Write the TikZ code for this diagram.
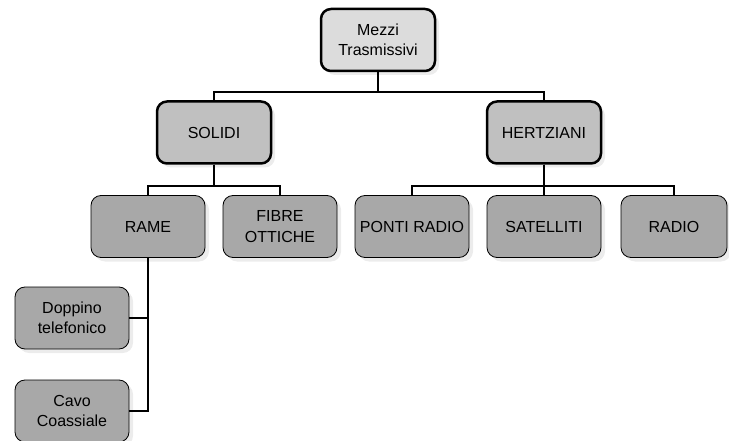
\documentclass[tikz,border=0pt]{standalone}
\usepackage{fontspec}
\setmainfont{Liberation Sans}
\usepackage{xcolor}
\usepackage{tikz}
\usetikzlibrary{shadows}

\definecolor{boxtop}{HTML}{DCDCDC}
\definecolor{boxmid}{HTML}{C0C0C0}
\definecolor{boxlow}{HTML}{A8A8A8}

\begin{document}
\begin{tikzpicture}[x=1pt,y=-1pt,
    box/.style={rectangle, rounded corners=10pt, draw=black, align=center,
        minimum width=114pt, minimum height=62pt, inner sep=1pt,
        font=\fontsize{16}{20.5}\selectfont,
        drop shadow={shadow xshift=4pt, shadow yshift=-4pt, fill=gray!30}},
    headbox/.style={box, fill=boxtop, line width=2.5pt},
    mainbox/.style={box, fill=boxmid, line width=2.5pt},
    leafbox/.style={box, fill=boxlow, line width=0.8pt},
    link/.style={line width=2pt}]
        \useasboundingbox (0,0) rectangle (729,441);

        \node[headbox] (mezzi) at (378,40) {Mezzi\\Trasmissivi};

        \node[mainbox] (solidi) at (214,132.5) {SOLIDI};
        \node[mainbox] (hertz) at (544,132.5) {HERTZIANI};

        \node[leafbox] (rame) at (148,226.5) {RAME};
        \node[leafbox] (fibre) at (280,226.5) {FIBRE\\OTTICHE};
        \node[leafbox] (ponti) at (412,226.5) {PONTI RADIO};
        \node[leafbox] (sat) at (544,226.5) {SATELLITI};
        \node[leafbox, minimum width=106pt] (radio) at (674,226.5) {RADIO};

        \node[leafbox] (doppino) at (72,318) {Doppino\\telefonico};
        \node[leafbox] (cavo) at (72,411) {Cavo\\Coassiale};

        \draw[link] (mezzi.south) -- ++(0,20) -| (solidi.north);
        \draw[link] (mezzi.south) -- ++(0,20) -| (hertz.north);
        \draw[link] (solidi.south) -- ++(0,21.5) -| (rame.north);
        \draw[link] (solidi.south) -- ++(0,21.5) -| (fibre.north);
        \draw[link] (hertz.south) -- ++(0,21.5) -| (ponti.north);
        \draw[link] (hertz.south) -- ++(0,21.5) -| (sat.north);
        \draw[link] (hertz.south) -- ++(0,21.5) -| (radio.north);
        \draw[link] (rame.south) |- (doppino.east);
        \draw[link] (rame.south) |- (cavo.east);
    \end{tikzpicture}
\end{document}
